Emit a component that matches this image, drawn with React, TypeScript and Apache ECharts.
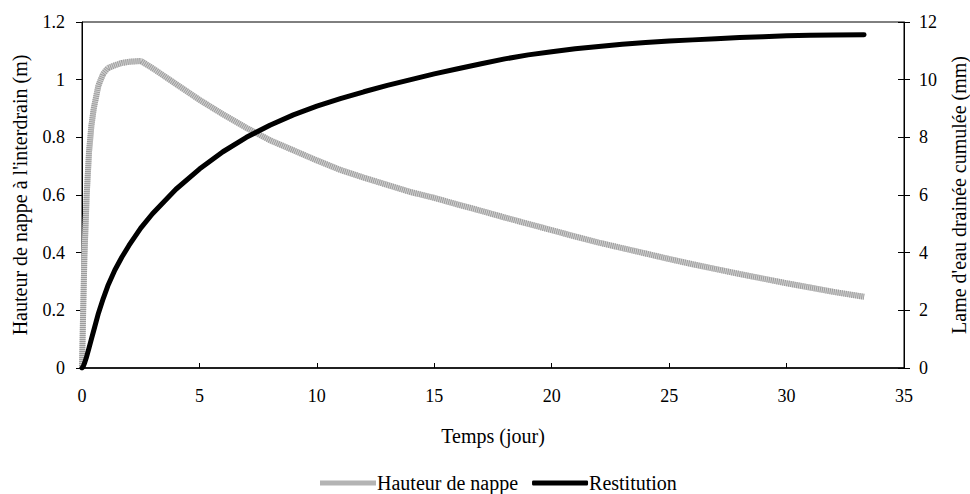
import React, { useEffect, useRef } from "react";
import * as echarts from "echarts";

const temps = [0, 0.05, 0.1, 0.2, 0.3, 0.4, 0.5, 0.7, 0.9, 1.1, 1.4, 1.7, 2.0, 2.5, 3, 4, 5, 6, 7, 8, 9, 10, 11, 12, 13, 14, 15, 16, 17, 18, 19, 20, 21, 22, 23, 24, 25, 26, 27, 28, 29, 30, 31, 32, 33.3];
const hauteur = [0, 0.2, 0.38, 0.6, 0.75, 0.84, 0.9, 0.98, 1.02, 1.04, 1.05, 1.058, 1.062, 1.065, 1.04, 0.985, 0.93, 0.88, 0.833, 0.79, 0.755, 0.72, 0.687, 0.66, 0.635, 0.61, 0.59, 0.567, 0.545, 0.522, 0.5, 0.478, 0.456, 0.435, 0.416, 0.397, 0.378, 0.36, 0.343, 0.326, 0.31, 0.294, 0.279, 0.264, 0.247];
const restitution = [0, 0.05, 0.15, 0.4, 0.7, 1.0, 1.3, 1.9, 2.4, 2.85, 3.4, 3.85, 4.25, 4.85, 5.35, 6.2, 6.9, 7.5, 8.0, 8.42, 8.78, 9.08, 9.34, 9.58, 9.8, 10.0, 10.2, 10.38, 10.55, 10.72, 10.86, 10.97, 11.07, 11.15, 11.23, 11.29, 11.34, 11.38, 11.42, 11.46, 11.49, 11.52, 11.54, 11.55, 11.56];

const xTitle = "Temps (jour)";
const yLeftTitle = "Hauteur de nappe à l'interdrain (m)";
const yRightTitle = "Lame d'eau drainée cumulée (mm)";
const nameH = "Hauteur de nappe";
const nameR = "Restitution";

const FONT = "Liberation Serif";

export default function App() {
  const ref = useRef<HTMLDivElement>(null);
  useEffect(() => {
    if (!ref.current) return;
    const chart = echarts.init(ref.current, null, { renderer: "svg" });
    const txt = { fontFamily: FONT, fontSize: 18, color: "#000" };
    const nameTxt = { fontFamily: FONT, fontSize: 20, color: "#000" };
    const hData = temps.map((t, i) => [t, hauteur[i]]);
    const rData = temps.map((t, i) => [t, restitution[i]]);
    chart.setOption({
      animation: false,
      backgroundColor: "#fff",
      textStyle: { fontFamily: FONT },
      grid: {
        left: 82, right: 66, top: 22, bottom: 126,
        show: true, borderColor: "#000", borderWidth: 1,
        outerBoundsMode: "none",
      },
      legend: {
        top: 468, left: 315,
        itemWidth: 56, itemHeight: 5, itemGap: 14,
        textStyle: { ...txt, fontSize: 20, padding: [0, 0, 0, -4] },
        data: [
          { name: nameH, icon: "rect", itemStyle: { color: "#b4b4b4", borderWidth: 0 } },
          { name: nameR, icon: "roundRect", itemStyle: { color: "#000", borderWidth: 0 } },
        ],
      },
      xAxis: {
        type: "value", min: 0, max: 35, interval: 5,
        name: xTitle, nameLocation: "middle", nameGap: 58,
        nameTextStyle: nameTxt,
        axisLine: { show: true, onZero: false, lineStyle: { color: "#000", width: 1.5 } },
        axisTick: { show: true, inside: true, length: 5, lineStyle: { color: "#000" } },
        axisLabel: { ...txt, margin: 19 },
        splitLine: { show: false },
      },
      yAxis: [
        {
          type: "value", min: 0, max: 1.2, interval: 0.2, position: "left",
          name: yLeftTitle, nameLocation: "middle", nameGap: 52, nameRotate: 90,
          nameTextStyle: nameTxt,
          axisLine: { show: true, lineStyle: { color: "#000", width: 1 } },
          axisTick: { show: true, inside: false, length: 6, lineStyle: { color: "#000" } },
          axisLabel: { ...txt, margin: 17, formatter: (v: number) => String(Math.round(v * 10) / 10) },
          splitLine: { show: false },
        },
        {
          type: "value", min: 0, max: 12, interval: 2, position: "right",
          name: yRightTitle, nameLocation: "middle", nameGap: 45, nameRotate: 90,
          nameTextStyle: nameTxt,
          axisLine: { show: true, lineStyle: { color: "#000", width: 1 } },
          axisTick: { show: true, inside: false, length: 6, lineStyle: { color: "#000" } },
          axisLabel: { ...txt, margin: 15 },
          splitLine: { show: false },
        },
        {
          type: "value", min: 0, max: 12, interval: 2, position: "right",
          axisLine: { show: false },
          axisTick: { show: true, inside: true, length: 6, lineStyle: { color: "#000" } },
          axisLabel: { show: false },
          splitLine: { show: false },
        },
      ],
      series: [
        {
          name: nameH, type: "line", yAxisIndex: 0, data: hData,
          symbol: "none", smooth: false,
          lineStyle: { color: "#d2d2d2", width: 6 },
          itemStyle: { color: "#b4b4b4" },
          z: 2,
        },
        {
          name: nameH, type: "line", yAxisIndex: 0, data: hData,
          symbol: "none", smooth: false,
          lineStyle: { color: "#9c9c9c", width: 6, type: [1, 1] },
          itemStyle: { color: "#b4b4b4" },
          z: 3,
        },
        {
          name: nameR, type: "line", yAxisIndex: 1, data: rData,
          symbol: "none", smooth: false,
          lineStyle: { color: "#000", width: 5, cap: "round", join: "round" },
          itemStyle: { color: "#000" },
          z: 4,
        },
      ],
    });
    return () => chart.dispose();
  }, []);
  return <div ref={ref} style={{ width: 970, height: 494, position: "absolute", left: 0, top: 0 }} />;
}
